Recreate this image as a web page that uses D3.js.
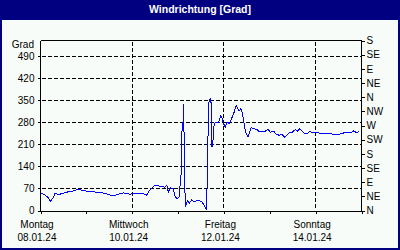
<!DOCTYPE html>
<html>
<head>
<meta charset="utf-8">
<script src="https://cdn.jsdelivr.net/npm/d3@7"></script>
<style>
  body { margin: 0; background: #fff; }
  text { font-family: "Liberation Sans", Arial, sans-serif; }
</style>
</head>
<body>
<svg id="chart"></svg>
<script>
var width = 400, height = 250;

// hours since Mon 08.01.24 00:00
var hours = [0, 2.1, 3.8, 5.2, 6.5, 7.7, 9.4, 11.7, 14.3, 16.9, 19.6, 22.2, 24.8, 28.3, 31.1,
  33.6, 36.3, 39.0, 41.1, 43.3, 45.3, 46.8, 48.6, 51.0, 53.8, 55.6, 57.3, 58.9, 60.3, 62.6,
  64.1, 65.2, 66.1, 66.9, 67.8, 69.5, 70.4, 71.6, 72.5, 73.6, 74.1, 74.5, 74.8, 75.2, 75.5,
  75.8, 76.9, 77.9, 79.2, 80.4, 81.8, 84.4, 85.7, 86.7, 87.4, 87.9, 88.4, 89.2, 89.7, 90.2,
  90.9, 91.9, 93.2, 94.4, 94.9, 95.8, 96.7, 97.6, 98.8, 100.2, 101.4, 102.4, 103.1, 104.0,
  104.9, 105.9, 106.8, 107.7, 108.6, 109.4, 110.3, 111.5, 113.3, 114.1, 115.9, 117.6, 119.1,
  120.3, 122.0, 123.3, 125.0, 126.4, 127.8, 129.3, 130.2, 131.6, 133.4, 134.6, 135.6, 136.9,
  138.3, 139.5, 140.7, 142.3, 144.8, 147.0, 150.0, 152.3, 155.3, 157.9, 159.6, 162.2, 164.0,
  165.7, 166.6];
var degrees = [55, 51, 42, 29, 40, 55, 50, 55, 59, 62, 67, 64, 61, 59, 57,
  55, 49, 48, 52, 56, 54, 51, 55, 55, 53, 49, 66, 75, 81, 77,
  76, 74, 80, 58, 72, 69, 45, 37, 42, 117, 265, 255, 337, 223, 90,
  10, 32, 23, 34, 27, 32, 29, 16, 3, 106, 340, 350, 355, 201, 217,
  276, 281, 281, 302, 297, 276, 265, 281, 276, 295, 313, 334, 324, 316,
  324, 302, 265, 244, 233, 249, 263, 260, 257, 252, 252, 252, 257,
  249, 252, 242, 239, 242, 233, 242, 248, 248, 257, 252, 259, 252,
  244, 244, 251, 248, 247, 245, 244, 243, 242, 244, 249, 247, 253,
  246, 253];

var leftTicks = [0, 70, 140, 210, 280, 350, 420, 490];
var compassTicks = [0, 45, 90, 135, 180, 225, 270, 315, 360, 405, 450, 495, 540];
var compassLabels = ["N", "NE", "E", "SE", "S", "SW", "W", "NW", "N", "NE", "E", "SE", "S"];
var labelDays = ["2024-01-08", "2024-01-10", "2024-01-12", "2024-01-14"];
var dayNames = ["Montag", "Mittwoch", "Freitag", "Sonntag"];
var dateLabels = ["08.01.24", "10.01.24", "12.01.24", "14.01.24"];

var start = new Date(2024, 0, 8), end = new Date(2024, 0, 15);
var parseDay = d3.timeParse("%Y-%m-%d");
var data = hours.map((h, i) => ({ t: new Date(+start + h * 3600e3), v: degrees[i] }));

var svg = d3.select("#chart").attr("width", width).attr("height", height);

// frame + title bar
svg.append("rect").attr("width", width).attr("height", height).attr("fill", "#000080");
svg.append("rect").attr("x", 2).attr("y", 20).attr("width", width - 4).attr("height", height - 22)
  .attr("fill", "#f8fcf8");
svg.append("text")
  .attr("x", width / 2).attr("y", 13)
  .attr("text-anchor", "middle")
  .attr("fill", "#fff")
  .style("font-size", "10.5px").style("font-weight", "bold")
  .text("Windrichtung [Grad]");

var x = d3.scaleTime().domain([start, end]).range([40, 361]);
var y = d3.scaleLinear().domain([0, 540]).range([210, 40]);

var g = svg.append("g").attr("transform", "translate(0.5,0.5)");

// grid
g.append("g").selectAll("line").data(leftTicks.slice(1))
  .join("line")
    .attr("x1", 41).attr("x2", 360)
    .attr("y1", d => Math.round(y(d))).attr("y2", d => Math.round(y(d)))
    .attr("stroke", "#000").attr("stroke-dasharray", "4,2")
    .attr("shape-rendering", "crispEdges");
g.append("g").selectAll("line").data(labelDays.slice(1))
  .join("line")
    .attr("x1", d => Math.round(x(parseDay(d)))).attr("x2", d => Math.round(x(parseDay(d))))
    .attr("y1", 41).attr("y2", 209)
    .attr("stroke", "#000").attr("stroke-dasharray", "4,2")
    .attr("shape-rendering", "crispEdges");

// top and right border
g.append("path")
  .attr("d", `M40,40H361V210`)
  .attr("fill", "none").attr("stroke", "#000")
  .attr("shape-rendering", "crispEdges");

// axes
var fmtAxis = sel => {
  sel.selectAll("path, line").attr("stroke", "#000").attr("shape-rendering", "crispEdges");
  sel.selectAll("text").attr("fill", "#000").style("font-size", "10px")
    .style("font-family", "'Liberation Sans', Arial, sans-serif");
};

svg.append("g")
    .attr("transform", "translate(40.5,0.5)")
    .call(d3.axisLeft(y).tickValues(leftTicks).tickSize(3).tickSizeOuter(0).tickPadding(3))
    .call(fmtAxis)
    .call(s => s.select(".domain").attr("d", "M0,40V210"));

svg.append("g")
    .attr("transform", "translate(361.5,0.5)")
    .call(d3.axisRight(y).tickValues(compassTicks).tickSize(3).tickSizeOuter(0).tickPadding(2)
      .tickFormat((d, i) => compassLabels[i]))
    .call(fmtAxis)
    .call(s => s.select(".domain").remove());

svg.append("g")
    .attr("transform", "translate(0.5,210.5)")
    .call(d3.axisBottom(x).ticks(d3.timeDay.every(1)).tickSize(3).tickSizeOuter(0).tickFormat(""))
    .call(fmtAxis);

// unit label
svg.append("text")
  .attr("x", 34).attr("y", 48)
  .attr("text-anchor", "end")
  .style("font-size", "10px")
  .text("Grad");

// day labels
var labels = svg.append("g").selectAll("g").data(labelDays)
  .join("g")
    .attr("transform", d => `translate(${x(parseDay(d)) - 3},0)`);
labels.append("text")
  .attr("y", 228).attr("text-anchor", "middle").style("font-size", "10px")
  .text((d, i) => dayNames[i]);
labels.append("text")
  .attr("y", 241).attr("text-anchor", "middle").style("font-size", "10px")
  .text((d, i) => dateLabels[i]);

// wind direction line
var line = d3.line().x(d => x(d.t)).y(d => y(d.v));
g.append("path")
  .datum(data)
  .attr("d", line)
  .attr("fill", "none")
  .attr("stroke", "#0000ff")
  .attr("stroke-width", 1)
  .attr("shape-rendering", "crispEdges");
</script>
</body>
</html>
